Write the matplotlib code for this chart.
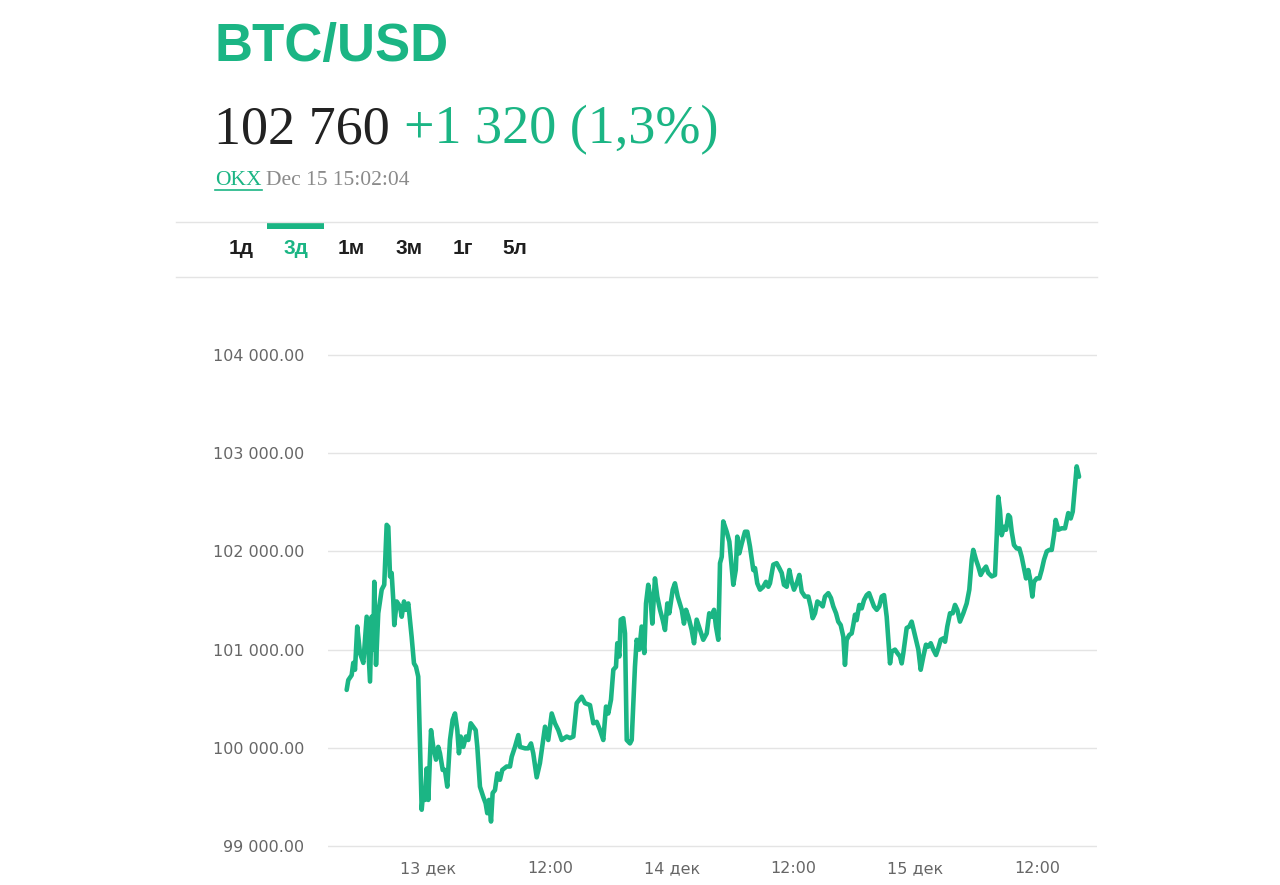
import matplotlib
matplotlib.use("Agg")
import matplotlib.pyplot as plt
from matplotlib.lines import Line2D
from matplotlib.patches import Rectangle
from matplotlib.ticker import FuncFormatter

GREEN = "#1bb584"
W, H = 1280, 885

# hours since 13 Dec 00:00 and BTC/USD price
hours = [-8.01, -7.85, -7.52, -7.36, -7.19, -6.97, -6.70, -6.37, -6.04, -5.71,
         -5.55, -5.39, -5.29, -5.12, -4.90, -4.56, -4.31, -4.07, -3.91, -3.74,
         -3.58, -3.42, -3.32, -3.08, -2.76, -2.59, -2.36, -2.20, -1.94, -1.61,
         -1.38, -1.18, -0.96, -0.62, -0.46, -0.30, -0.13, 0.03, 0.30, 0.52,
         0.79, 1.01, 1.18, 1.45, 1.67, 1.90, 2.17, 2.43, 2.66, 2.89,
         3.05, 3.22, 3.48, 3.74, 3.97, 4.21, 4.46, 4.70, 4.86, 5.12,
         5.45, 5.68, 5.84, 6.01, 6.21, 6.37, 6.60, 6.83, 7.09, 7.32,
         7.75, 8.08, 8.25, 8.57, 8.90, 9.06, 9.56, 9.88, 10.15, 10.37,
         10.71, 11.03, 11.53, 11.85, 12.19, 12.51, 12.84, 13.17, 13.67, 13.99,
         14.32, 14.65, 15.14, 15.47, 15.96, 16.29, 16.62, 16.95, 17.27, 17.54,
         17.76, 18.03, 18.26, 18.52, 18.65, 18.85, 18.99, 19.24, 19.41, 19.58,
         19.90, 20.07, 20.39, 20.56, 20.82, 21.05, 21.31, 21.48, 21.70, 21.94,
         22.10, 22.36, 22.59, 22.86, 23.12, 23.35, 23.58, 23.77, 24.11, 24.33,
         24.60, 25.00, 25.22, 25.42, 25.65, 25.98, 26.21, 26.47, 26.80, 27.12,
         27.46, 27.71, 27.95, 28.18, 28.37, 28.60, 28.77, 28.94, 29.09, 29.43,
         29.69, 29.92, 30.08, 30.32, 30.47, 30.67, 30.91, 31.23, 31.46, 31.72,
         32.05, 32.22, 32.44, 32.71, 33.03, 33.30, 33.53, 33.69, 34.02, 34.35,
         34.61, 34.85, 35.07, 35.34, 35.60, 35.83, 36.06, 36.33, 36.58, 36.82,
         37.14, 37.47, 37.70, 37.90, 38.13, 38.36, 38.62, 38.89, 39.11, 39.44,
         39.70, 39.93, 40.20, 40.42, 40.66, 40.92, 41.08, 41.25, 41.51, 41.74,
         41.90, 42.07, 42.23, 42.49, 42.73, 42.96, 43.22, 43.45, 43.71, 43.94,
         44.21, 44.46, 44.70, 44.93, 45.19, 45.35, 45.52, 45.68, 46.01, 46.24,
         46.50, 46.67, 46.83, 47.16, 47.42, 47.65, 48.08, 48.31, 48.54, 48.80,
         49.06, 49.29, 49.53, 49.78, 50.05, 50.28, 50.51, 50.77, 50.94, 51.16,
         51.43, 51.69, 51.92, 52.15, 52.41, 52.74, 53.07, 53.33, 53.57, 53.72,
         53.99, 54.22, 54.45, 54.71, 54.98, 55.20, 55.54, 55.86, 56.03, 56.18,
         56.35, 56.52, 56.75, 56.95, 57.17, 57.34, 57.51, 57.73, 58.00, 58.26,
         58.49, 58.72, 58.92, 59.14, 59.31, 59.54, 59.70, 59.97, 60.23, 60.46,
         60.69, 60.96, 61.21, 61.45, 61.67, 61.84, 62.10, 62.43, 62.76, 63.08,
         63.32, 63.52, 63.74, 63.91, 64.07, 64.14]
prices = [100590, 100690, 100740, 100865, 100795, 101235, 100965, 100865, 101335, 100675,
          101335, 101000, 101690, 100845, 101370, 101610, 101660, 102270, 102250, 101745,
          101780, 101505, 101250, 101490, 101440, 101335, 101490, 101405, 101470, 101130,
          100860, 100825, 100725, 99370, 99570, 99470, 99790, 99470, 100180, 100010,
          99880, 100010, 99945, 99775, 99775, 99605, 100080, 100285, 100350, 100180,
          99945, 100115, 100010, 100115, 100080, 100250, 100215, 100180, 100010, 99605,
          99500, 99435, 99335, 99470, 99250, 99540, 99570, 99740, 99675, 99775,
          99810, 99810, 99910, 100010, 100130, 100010, 99995, 99995, 100045, 99945,
          99700, 99845, 100215, 100080, 100350, 100250, 100180, 100080, 100115, 100100,
          100115, 100455, 100520, 100455, 100435, 100250, 100265, 100180, 100080, 100420,
          100350, 100490, 100795, 100825, 101065, 100930, 101305, 101320, 101165, 100080,
          100045, 100080, 100825, 101100, 101000, 101235, 100965, 101470, 101660, 101505,
          101265, 101725, 101540, 101405, 101305, 101200, 101470, 101370, 101610, 101675,
          101540, 101405, 101265, 101405, 101335, 101200, 101065, 101305, 101200, 101100,
          101165, 101370, 101335, 101405, 101235, 101100, 101880, 101945, 102305, 102200,
          102100, 101845, 101660, 101810, 102150, 101980, 102080, 102200, 102200, 102050,
          101810, 101830, 101675, 101610, 101640, 101690, 101640, 101675, 101865, 101880,
          101830, 101780, 101660, 101640, 101810, 101690, 101610, 101675, 101760, 101590,
          101540, 101540, 101440, 101320, 101370, 101490, 101470, 101440, 101540, 101575,
          101525, 101440, 101370, 101285, 101250, 101130, 100845, 101100, 101150, 101165,
          101250, 101355, 101300, 101455, 101420, 101505, 101555, 101575, 101505, 101440,
          101405, 101440, 101540, 101555, 101335, 101100, 100860, 100980, 101000, 100965,
          100930, 100860, 100965, 101220, 101235, 101285, 101100, 101000, 100795, 100930,
          101050, 101030, 101065, 101000, 100945, 101015, 101100, 101115, 101080, 101235,
          101370, 101370, 101455, 101405, 101285, 101370, 101470, 101610, 101915, 102015,
          101915, 101845, 101760, 101810, 101845, 101780, 101745, 101760, 102150, 102555,
          102420, 102165, 102250, 102220, 102370, 102350, 102200, 102065, 102030, 102030,
          101945, 101830, 101725, 101810, 101725, 101540, 101690, 101725, 101725, 101810,
          101915, 102000, 102015, 102015, 102165, 102320, 102220, 102235, 102235, 102390,
          102335, 102405, 102660, 102865, 102795, 102760]

y_ticks = [99000, 100000, 101000, 102000, 103000, 104000]
x_ticks = [0, 12, 24, 36, 48, 60]
x_labels = ["13 дек", "12:00", "14 дек", "12:00", "15 дек", "12:00"]
tabs = ["1д", "3д", "1м", "3м", "1г", "5л"]
active_tab = "3д"


def px(x, y):
    return x / W, 1 - y / H


fig = plt.figure(figsize=(W / 100, H / 100), dpi=100)
fig.patch.set_facecolor("white")

# header
fig.text(*px(215, 61), "BTC/USD", fontsize=38, fontweight="bold",
         family="Liberation Sans", color=GREEN, va="baseline")
price_txt = fig.text(*px(214, 143), "102 760", fontsize=39, family="Liberation Serif",
                     color="#222222", va="baseline")
r = fig.canvas.get_renderer()
bb = price_txt.get_window_extent(r)
fig.text(bb.x1 / W + 14 / W, 1 - 143 / H, "+1 320 (1,3%)", fontsize=39,
         family="Liberation Serif", color=GREEN, va="baseline")

okx = fig.text(*px(215, 185), "OKX", fontsize=15.5, family="Liberation Serif",
               color=GREEN, va="baseline")
bb = okx.get_window_extent(r)
fig.add_artist(Line2D([bb.x0 / W, bb.x1 / W], [1 - 190 / H] * 2, color=GREEN, lw=1.2))
fig.text(bb.x1 / W + 5 / W, 1 - 185 / H, "Dec 15 15:02:04", fontsize=15.5,
         family="Liberation Serif", color="#8a8a8a", va="baseline")

# tab bar
for yy in (222, 277):
    fig.add_artist(Line2D([176 / W, 1097 / W], [1 - yy / H] * 2, color="#e4e4e4", lw=1))
fig.add_artist(Rectangle(px(267, 229), 57 / W, 6 / H, color=GREEN, lw=0))
tab_x = [241, 296, 351, 409, 463, 515]
for tx, t in zip(tab_x, tabs):
    fig.text(*px(tx, 249), t, fontsize=15, fontweight="bold", family="Liberation Sans",
             color=GREEN if t == active_tab else "#1e1e1e", ha="center", va="center")

# chart (y range padded by 50 so the 99 000 gridline is not clipped)
ax = fig.add_axes([328 / W, 1 - 851 / H, (1097 - 328) / W, (851 - 350) / H])
ax.plot(hours, prices, color=GREEN, lw=3.3, solid_joinstyle="round",
        solid_capstyle="round", clip_on=False)
ax.set_xlim(-9.85, 65.91)
ax.set_ylim(98950, 104050)
ax.set_yticks(y_ticks)
ax.yaxis.set_major_formatter(FuncFormatter(lambda v, p: f"{v:,.2f}".replace(",", " ")))
ax.set_xticks(x_ticks)
ax.set_xticklabels(x_labels)
ax.grid(axis="y", color="#e4e4e4", lw=1)
ax.set_axisbelow(True)
for s in ax.spines.values():
    s.set_visible(False)
ax.tick_params(axis="y", length=0, pad=17, labelsize=11.5, labelcolor="#666666")
ax.tick_params(axis="x", length=0, pad=7, labelsize=11.5, labelcolor="#666666")

fig.savefig("out.png", dpi=100, facecolor="white")
